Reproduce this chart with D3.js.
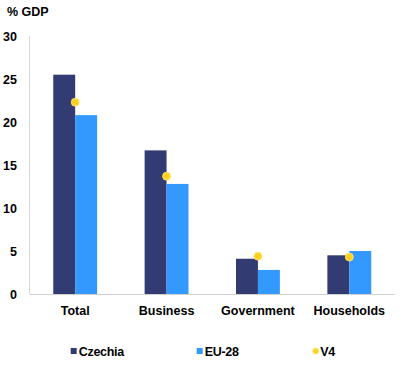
<!DOCTYPE html>
<html>
<head>
<meta charset="utf-8">
<script src="https://cdn.jsdelivr.net/npm/d3@7"></script>
<style>
  body { margin: 0; background: #fff; }
  text { font-family: "Liberation Sans", Arial, sans-serif; font-weight: bold; fill: #000; }
</style>
</head>
<body>
<script>
// data
const categories = ["Total", "Business", "Government", "Households"];
const czechia = [25.5, 16.7, 4.1, 4.5];
const eu28 = [20.8, 12.8, 2.8, 5.0];
const v4 = [22.3, 13.7, 4.4, 4.3];
const yTicks = [0, 5, 10, 15, 20, 25, 30];
const seriesNames = ["Czechia", "EU-28", "V4"];

const width = 402, height = 374;
const margin = {top: 36, right: 7, bottom: 80, left: 29.5};

const colors = {Czechia: "#333B73", "EU-28": "#3399FF", V4: "#FFD21F"};

const svg = d3.select("body").append("svg")
  .attr("width", width)
  .attr("height", height);

const y = d3.scaleLinear().domain([0, 30]).range([294, 36]);
const x = d3.scaleBand().domain(categories).range([margin.left, width - margin.right])
  .paddingInner(0.52).paddingOuter(0.26);
const xs = d3.scaleBand().domain(["Czechia", "EU-28"]).range([0, x.bandwidth()]);

// title
svg.append("text").attr("x", 7).attr("y", 16).attr("font-size", "12.5px").text("% GDP");

// y axis line
svg.append("line")
  .attr("x1", margin.left).attr("x2", margin.left)
  .attr("y1", y(30)).attr("y2", y(0))
  .attr("stroke", "#D9D9D9").attr("stroke-width", 1);

// y tick labels
svg.selectAll(".ytick").data(yTicks).enter().append("text")
  .attr("class", "ytick")
  .attr("x", 17).attr("y", d => y(d) + 4.5)
  .attr("text-anchor", "end")
  .attr("font-size", "12.5px")
  .text(d => d);

const rows = categories.map((c, i) => ({cat: c, Czechia: czechia[i], "EU-28": eu28[i], V4: v4[i]}));

const g = svg.selectAll(".cat").data(rows).enter().append("g")
  .attr("transform", d => `translate(${x(d.cat)},0)`);

g.selectAll("rect").data(d => ["Czechia", "EU-28"].map(k => ({k, v: d[k]}))).enter().append("rect")
  .attr("x", d => xs(d.k))
  .attr("width", xs.bandwidth())
  .attr("y", d => y(d.v))
  .attr("height", d => y(0) - y(d.v))
  .attr("fill", d => colors[d.k]);

// x axis line
svg.append("line")
  .attr("x1", margin.left).attr("x2", width - margin.right)
  .attr("y1", y(0) + 0.5).attr("y2", y(0) + 0.5)
  .attr("stroke", "#D0D0D0").attr("stroke-width", 1);

// V4 dots
g.append("circle")
  .attr("cx", x.bandwidth() / 2)
  .attr("cy", d => y(d.V4))
  .attr("r", 4)
  .attr("fill", colors.V4)
  .attr("stroke", "#FFE680").attr("stroke-width", 0.8);

// category labels
svg.selectAll(".xlab").data(categories).enter().append("text")
  .attr("x", d => x(d) + x.bandwidth() / 2)
  .attr("y", 314.5)
  .attr("text-anchor", "middle")
  .attr("font-size", "12.5px")
  .text(d => d);

// legend
const legendX = [70.7, 196.7, 315.7];
const lg = svg.selectAll(".leg").data(seriesNames).enter().append("g")
  .attr("transform", (d, i) => `translate(${legendX[i]},351)`);
lg.filter(d => d !== "V4").append("rect")
  .attr("x", 0).attr("y", -3).attr("width", 6).attr("height", 6)
  .attr("fill", d => colors[d]);
lg.filter(d => d === "V4").append("circle")
  .attr("cx", 0).attr("cy", 0).attr("r", 3)
  .attr("fill", colors.V4).attr("stroke", "#FFE680").attr("stroke-width", 0.6);
lg.append("text")
  .attr("x", d => d === "V4" ? 4.5 : 8)
  .attr("y", 4.5)
  .attr("font-size", "12.5px")
  .attr("letter-spacing", "-0.3px")
  .text(d => d);
</script>
</body>
</html>
